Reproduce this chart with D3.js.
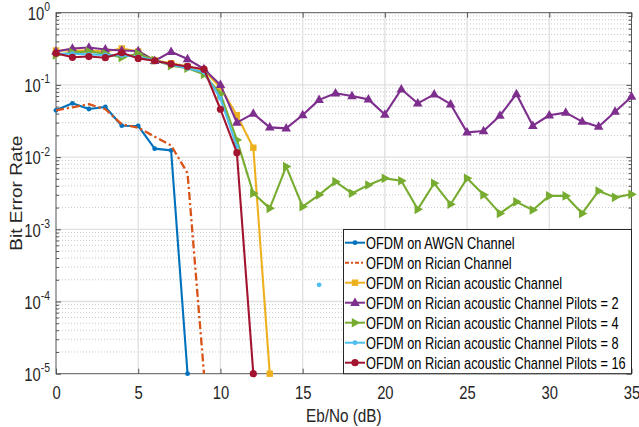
<!DOCTYPE html>
<html><head><meta charset="utf-8">
<script src="https://cdn.jsdelivr.net/npm/d3@7"></script>
<style>html,body{margin:0;padding:0;background:#fff;}svg{display:block;}</style>
</head><body>
<svg id="chart" width="639" height="427"></svg>
<script>
// ---- data ----
const ebno = d3.range(0, 36);
const xTicks = [0, 5, 10, 15, 20, 25, 30, 35];
const yTickExps = [-5, -4, -3, -2, -1, 0];
const seriesNames = [
  "OFDM on AWGN Channel",
  "OFDM on Rician Channel",
  "OFDM on Rician acoustic Channel",
  "OFDM on Rician acoustic Channel Pilots = 2",
  "OFDM on Rician acoustic Channel Pilots = 4",
  "OFDM on Rician acoustic Channel Pilots = 8",
  "OFDM on Rician acoustic Channel Pilots = 16"
];
const berAWGN = [0.0445,0.0556,0.0464,0.0494,0.0272,0.027,0.0131,0.0124,1e-5];
const berRician = [0.0445,0.049,0.054,0.046,0.0285,0.0255,0.0192,0.0145,0.006,1e-5];
const berAcoustic = [0.30,0.30,0.30,0.29,0.32,0.29,0.22,0.20,0.18,0.16,0.092,0.038,0.0135,1e-5];
const berPilots2 = [0.29,0.32,0.33,0.31,0.30,0.295,0.215,0.288,0.228,0.166,0.10,0.030,0.040,0.0258,0.025,0.0383,0.062,
  0.0765,0.070,0.063,0.039,0.087,0.0556,0.074,0.054,0.022,0.023,0.0375,0.0748,0.0272,0.038,0.0413,0.031,0.0264,0.0426,0.0687];
const berPilots4 = [0.26,0.28,0.29,0.27,0.24,0.27,0.22,0.185,0.17,0.14,0.075,0.0173,0.00315,0.00195,0.0074,0.00206,0.003,
  0.00457,0.00315,0.0041,0.00508,0.0047,0.00189,0.00434,0.00222,0.00508,0.003,0.00166,0.0024,0.00185,0.0029,0.0029,0.00166,0.0034,0.00277,0.00305];
const berPilots8 = [0.27,0.27,0.265,0.26,0.255,0.245,0.22,0.19,0.17,0.15,0.065,0.014,null,null,null,null,1.7e-4];
const berPilots16 = [0.274,0.241,0.247,0.238,0.279,0.233,0.216,0.195,0.18,0.165,0.046,0.0115,1e-5];

const colors = ["#0072BD","#D95319","#EDB120","#7E2F8E","#77AC30","#4DBEEE","#A2142F"];
const markers = ["dot","none","square","triUp","triRight","dot","circle"];
const dashes = [null,"8,3,2.2,3",null,null,null,null,null];
const allData = [berAWGN, berRician, berAcoustic, berPilots2, berPilots4, berPilots8, berPilots16];

// ---- layout ----
const svg = d3.select("#chart");
const FONT = "'Liberation Sans', Arial, Helvetica, sans-serif";
const x = d3.scaleLinear().domain([0, 35]).range([56, 631.5]);
const y = d3.scaleLog().domain([1e-5, 1]).range([373.7, 12.7]);
const X0 = x(0), X1 = x(35), Y0 = y(1e-5), Y1 = y(1);

// grid
const grid = svg.append("g");
const minorVals = [];
for (let e = -5; e < 0; e++) for (let k = 2; k <= 9; k++) minorVals.push(k * Math.pow(10, e));
grid.selectAll("line.minor").data(minorVals).join("line")
  .attr("x1", X0).attr("x2", X1).attr("y1", d => y(d)).attr("y2", d => y(d))
  .attr("stroke", "#c8c8c8").attr("stroke-width", 1).attr("stroke-dasharray", "1,2");
grid.selectAll("line.majy").data(yTickExps.slice(1, -1)).join("line")
  .attr("x1", X0).attr("x2", X1).attr("y1", d => y(Math.pow(10, d))).attr("y2", d => y(Math.pow(10, d)))
  .attr("stroke", "#e0e0e0").attr("stroke-width", 1.3);
grid.selectAll("line.majx").data(xTicks.slice(1, -1)).join("line")
  .attr("x1", d => x(d)).attr("x2", d => x(d)).attr("y1", Y1).attr("y2", Y0)
  .attr("stroke", "#e0e0e0").attr("stroke-width", 1.3);

// axes box
const axisColor = "#555";
svg.append("rect").attr("x", X0).attr("y", Y1).attr("width", X1 - X0).attr("height", Y0 - Y1)
  .attr("fill", "none").attr("stroke", axisColor).attr("stroke-width", 1);

// x axis (bottom)
const xAxisG = svg.append("g").attr("transform", `translate(0,${Y0})`)
  .call(d3.axisBottom(x).tickValues(xTicks).tickSize(-5).tickFormat(d3.format("d")));
xAxisG.select(".domain").remove();
xAxisG.selectAll(".tick line").attr("stroke", axisColor);
xAxisG.selectAll(".tick text")
  .attr("font-family", FONT).attr("font-size", 18.5).attr("fill", "#262626")
  .attr("y", 25).attr("dy", 0).attr("transform", "scale(0.8,1)");
const xTopG = svg.append("g").attr("transform", `translate(0,${Y1})`)
  .call(d3.axisTop(x).tickValues(xTicks).tickSize(-5).tickFormat(""));
xTopG.select(".domain").remove();
xTopG.selectAll(".tick line").attr("stroke", axisColor);

// y axis left
const yTickVals = yTickExps.map(e => Math.pow(10, e));
const yAxisG = svg.append("g").attr("transform", `translate(${X0},0)`)
  .call(d3.axisLeft(y).tickValues(yTickVals).tickSize(-5).tickFormat(""));
yAxisG.select(".domain").remove();
yAxisG.selectAll(".tick line").attr("stroke", axisColor);
yAxisG.selectAll(".tick").each(function(d) {
  const t = d3.select(this).append("text")
    .attr("transform", "translate(-6,0) scale(0.8,1)")
    .attr("text-anchor", "end").attr("font-family", FONT).attr("fill", "#262626");
  t.append("tspan").attr("x", 0).attr("y", 6.7).attr("font-size", 18.5).text("10");
  t.append("tspan").attr("dy", -8.7).attr("font-size", 13).text(String(Math.round(Math.log10(d))));
});
const yMinorL = svg.append("g").attr("transform", `translate(${X0},0)`)
  .call(d3.axisLeft(y).tickValues(minorVals).tickSize(-3).tickFormat(""));
yMinorL.select(".domain").remove();
yMinorL.selectAll(".tick line").attr("stroke", axisColor);
const yRightG = svg.append("g").attr("transform", `translate(${X1},0)`)
  .call(d3.axisRight(y).tickValues(yTickVals).tickSize(-5).tickFormat(""));
yRightG.select(".domain").remove();
yRightG.selectAll(".tick line").attr("stroke", axisColor);
const yMinorR = svg.append("g").attr("transform", `translate(${X1},0)`)
  .call(d3.axisRight(y).tickValues(minorVals).tickSize(-3).tickFormat(""));
yMinorR.select(".domain").remove();
yMinorR.selectAll(".tick line").attr("stroke", axisColor);

// axis titles
svg.append("text").attr("transform", `translate(${(X0 + X1) / 2},421.5) scale(0.85,1)`)
  .attr("text-anchor", "middle").attr("font-family", FONT).attr("font-size", 18).attr("fill", "#262626")
  .text("Eb/No (dB)");
svg.append("text").attr("transform", `translate(21.7,${(Y0 + Y1) / 2}) scale(0.86,1) rotate(-90)`)
  .attr("text-anchor", "middle").attr("font-family", FONT).attr("font-size", 19).attr("fill", "#262626")
  .text("Bit Error Rate");

function drawMarker(sel, type, color) {
  if (type === "dot") sel.append("circle").attr("r", 2.4).attr("fill", color);
  else if (type === "circle") sel.append("circle").attr("r", 3.6).attr("fill", color);
  else if (type === "square") sel.append("rect").attr("x", -3.2).attr("y", -3.2).attr("width", 6.4).attr("height", 6.4).attr("fill", color);
  else if (type === "triUp") sel.append("path").attr("d", "M0,-5.3L4.8,3.2L-4.8,3.2Z").attr("fill", color);
  else if (type === "triRight") sel.append("path").attr("d", "M5.3,0L-3.2,-4.8L-3.2,4.8Z").attr("fill", color);
}

// series
const line = d3.line().defined(d => d.v != null && d.v > 0).x(d => x(d.x)).y(d => y(d.v));
const plot = svg.append("g");
allData.forEach((arr, i) => {
  const pts = arr.map((v, j) => ({ x: ebno[j], v: v }));
  const p = plot.append("path").datum(pts).attr("d", line)
    .attr("fill", "none").attr("stroke", colors[i]).attr("stroke-width", i === 1 ? 2.3 : 2.1)
    .attr("stroke-linejoin", "round");
  if (dashes[i]) p.attr("stroke-dasharray", dashes[i]);
  if (markers[i] !== "none") {
    pts.filter(d => d.v != null && d.v > 0).forEach(d => {
      const g = plot.append("g").attr("transform", `translate(${x(d.x)},${y(d.v)})`);
      drawMarker(g, markers[i], colors[i]);
    });
  }
});

// legend
const lg = svg.append("g");
lg.append("rect").attr("x", 343.5).attr("y", 229.5).attr("width", X1 - 343.5).attr("height", Y0 - 229.5)
  .attr("fill", "#fff").attr("stroke", "#262626").attr("stroke-width", 1);
seriesNames.forEach((name, i) => {
  const cy = 242.7 + i * 20;
  const l = lg.append("line").attr("x1", 345).attr("x2", 365).attr("y1", cy).attr("y2", cy)
    .attr("stroke", colors[i]).attr("stroke-width", 2);
  if (dashes[i]) l.attr("stroke-dasharray", "4,2,2,2");
  if (markers[i] !== "none") {
    const g = lg.append("g").attr("transform", `translate(355,${cy})`);
    drawMarker(g, markers[i], colors[i]);
  }
  lg.append("text").attr("transform", `translate(366,${cy + 5.8}) scale(0.8,1)`)
    .attr("font-family", FONT).attr("font-size", 16).attr("fill", "#000").text(name);
});
</script>
</body></html>
